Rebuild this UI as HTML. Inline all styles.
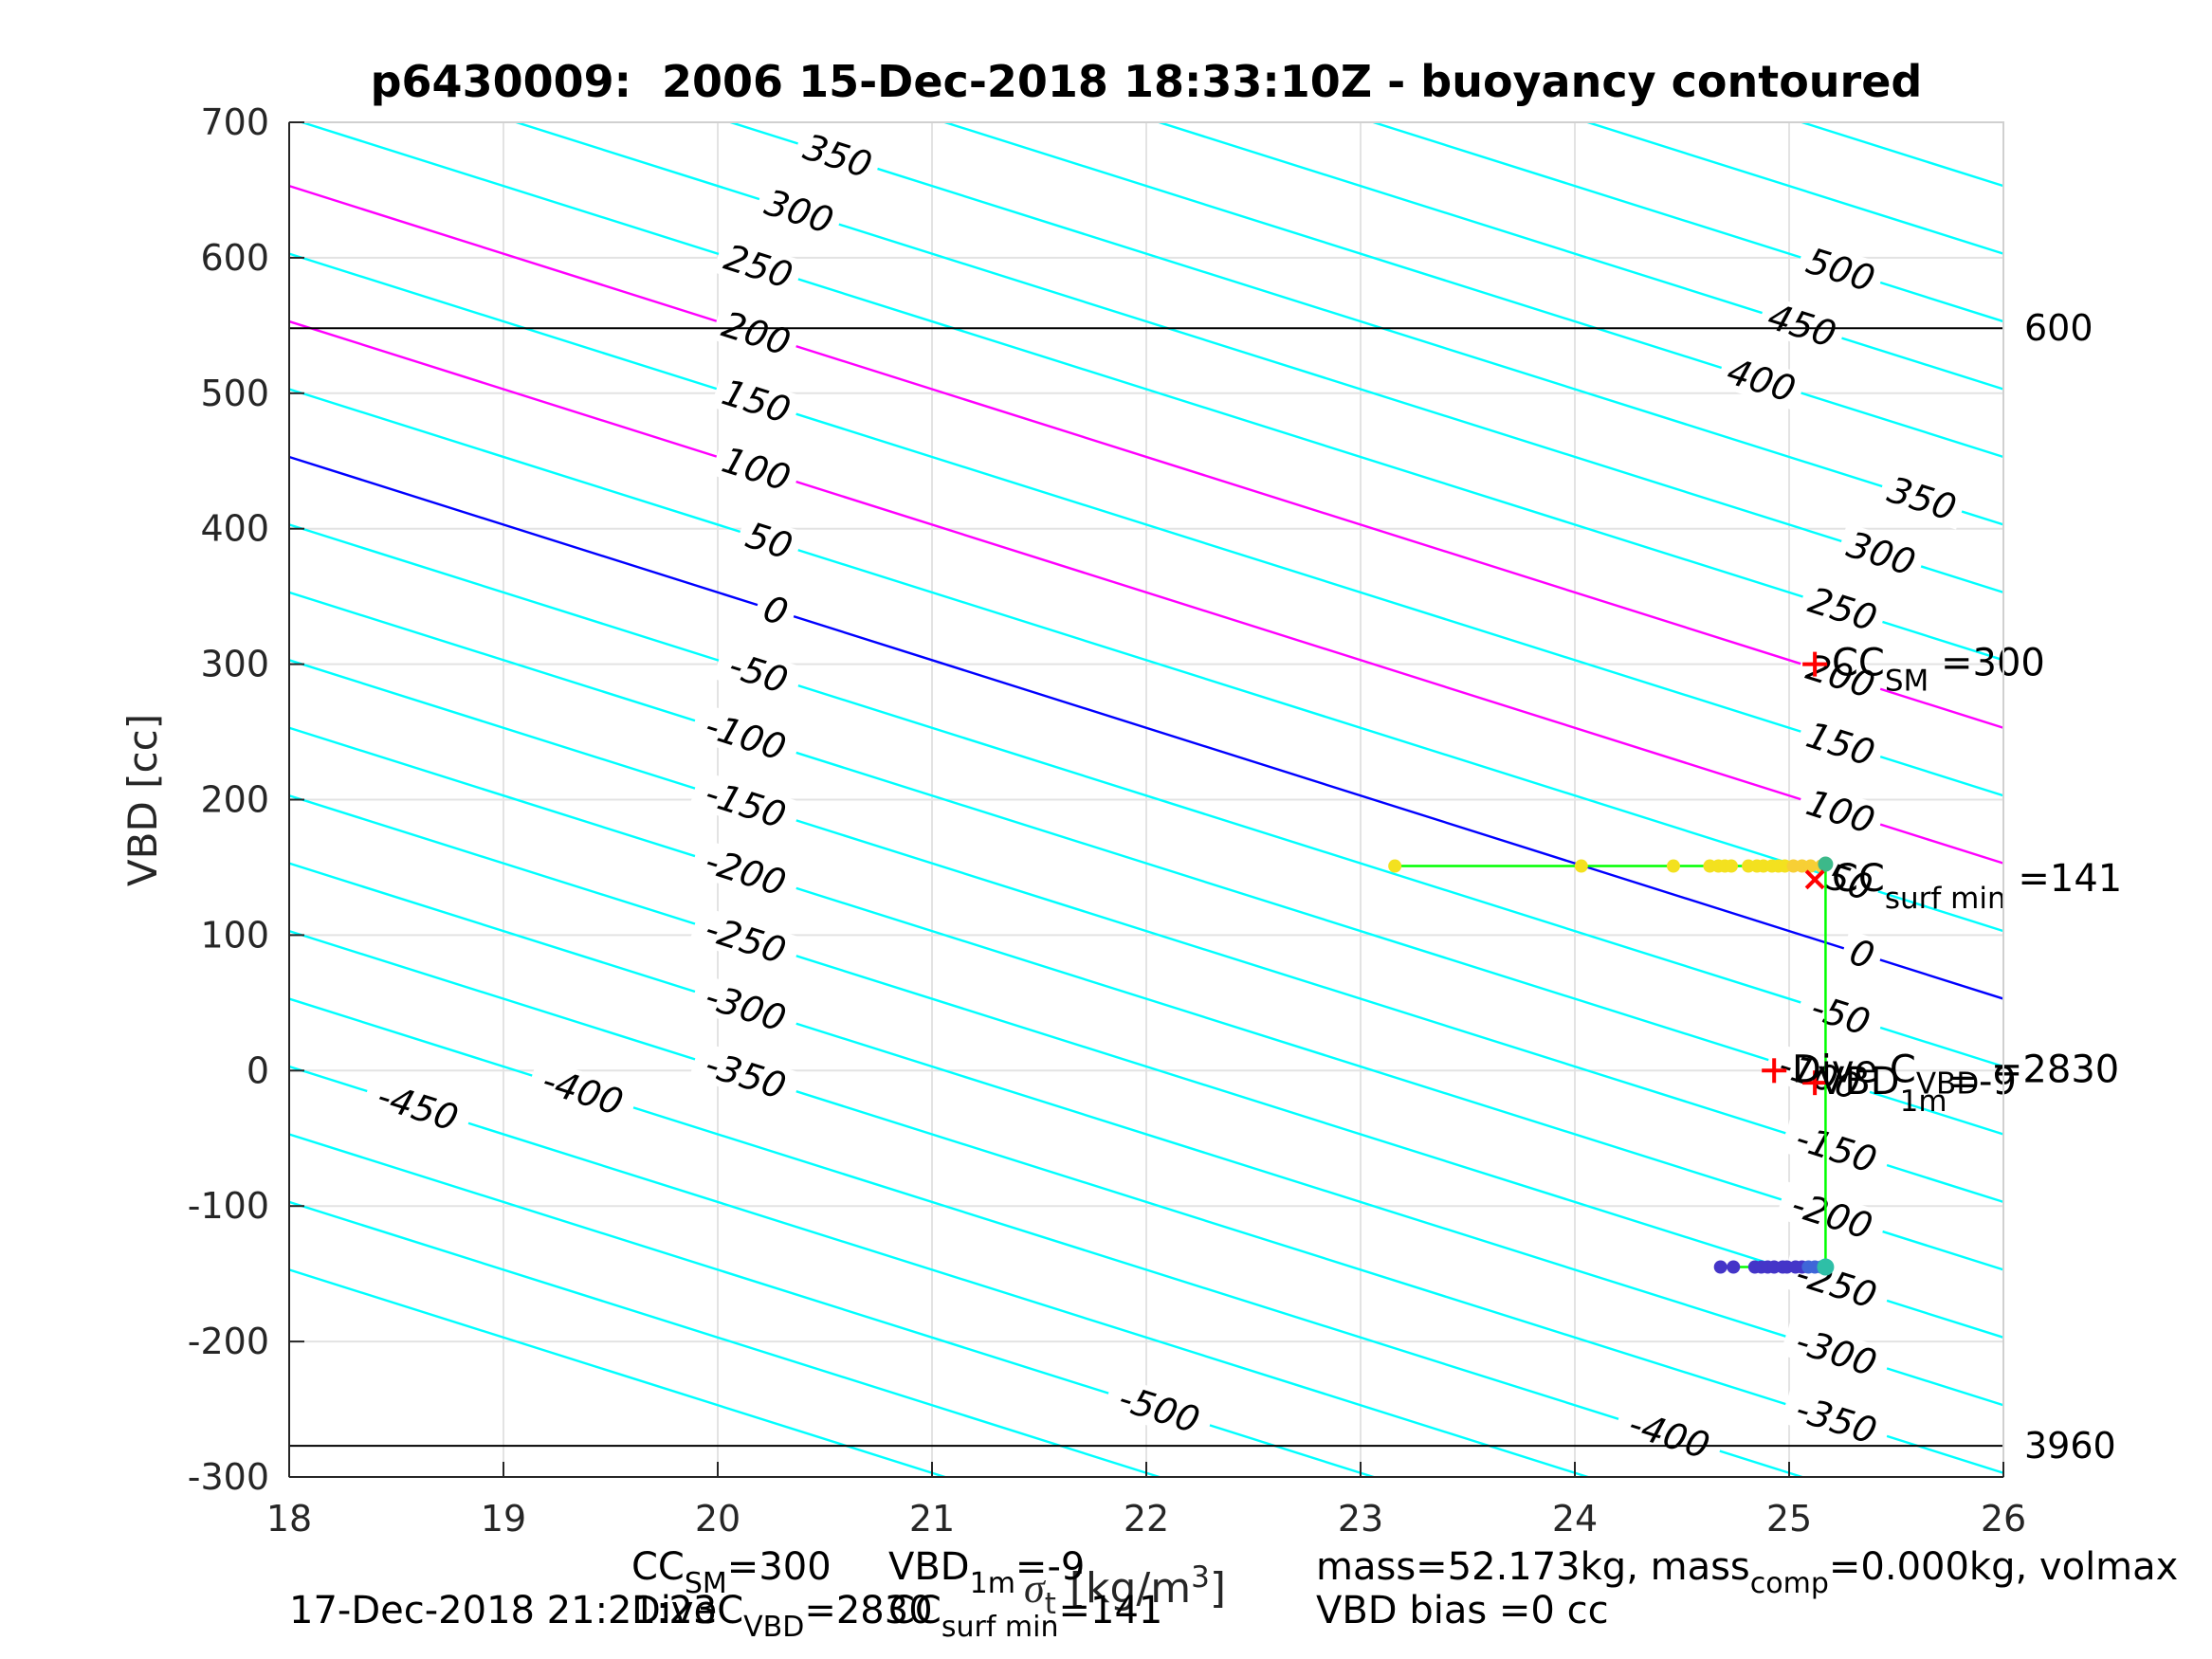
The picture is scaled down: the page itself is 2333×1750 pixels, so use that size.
<!DOCTYPE html>
<html><head><meta charset="utf-8"><style>
html,body{margin:0;background:#fff;overflow:hidden;width:2333px;height:1750px}
svg{display:block;font-family:"DejaVu Sans","Liberation Sans",sans-serif}
</style></head><body>
<svg id="chart" width="2333" height="1750" viewBox="0 0 2333 1750" xmlns="http://www.w3.org/2000/svg">
<rect width="2333" height="1750" fill="#fff"/>
<g id="grid"></g>
<g id="contours"></g>
<g id="clabels"></g>
<g id="refs"></g>
<g id="series"></g>
<g id="axes"></g>
<text x="1209" y="102" text-anchor="middle" font-size="46" font-weight="bold" style="white-space:pre">p6430009:  2006 15-Dec-2018 18:33:10Z - buoyancy contoured</text>
<text transform="translate(165,844) rotate(-90)" text-anchor="middle" font-size="42" fill="#262626">VBD [cc]</text>
<text x="1080" y="1690" font-size="44" fill="#262626"><tspan font-style="italic" font-family="Liberation Serif,serif">σ</tspan><tspan font-size="31" dy="12">t</tspan><tspan dy="-12"> [kg/m</tspan><tspan font-size="31" dy="-16">3</tspan><tspan dy="16">]</tspan></text>
<g font-size="40">
<text x="666" y="1666">CC<tspan font-size="30" dy="14">SM</tspan><tspan dy="-14">=300</tspan></text>
<text x="937" y="1666">VBD<tspan font-size="30" dy="14">1m</tspan><tspan dy="-14">=-9</tspan></text>
<text x="1388" y="1666">mass=52.173kg, mass<tspan font-size="30" dy="14">comp</tspan><tspan dy="-14">=0.000kg, volmax</tspan></text>
<text x="305" y="1712">17-Dec-2018 21:21:23</text>
<text x="666" y="1712">DiveC<tspan font-size="30" dy="14">VBD</tspan><tspan dy="-14">=2830</tspan></text>
<text x="937" y="1712">CC<tspan font-size="30" dy="14">surf min</tspan><tspan dy="-14">=141</tspan></text>
<text x="1388" y="1712">VBD bias =0 cc</text>
</g>
<script>
const X0=305,X1=2113,Y0=129,Y1=1558;
const xMin=18,xMax=26,yMin=-300,yMax=700;
const xTicks=[18,19,20,21,22,23,24,25,26];
const yTicks=[-300,-200,-100,0,100,200,300,400,500,600,700];
const levels=[-600,-550,-500,-450,-400,-350,-300,-250,-200,-150,-100,-50,0,50,100,150,200,250,300,350,400,450,500,550,600,650];
const zeroVBD=453;
const slope=50;
const labelLevelsL=[350,300,250,200,150,100,50,0,-50,-100,-150,-200,-250,-300,-350,-400,-450,-500];
const labelSigmaL=[20.56,20.38,20.19,20.18,20.18,20.18,20.24,20.27,20.19,20.13,20.13,20.13,20.13,20.13,20.13,19.37,18.6,22.06];
const labelLevelsR=[500,450,400,350,300,250,200,150,100,50,0,-50,-100,-150,-200,-250,-300,-350,-400];
const labelSigmaR=[25.24,25.06,24.87,25.62,25.43,25.25,25.24,25.24,25.24,25.28,25.34,25.24,25.14,25.22,25.2,25.22,25.22,25.22,24.44];
const surfSigma=[23.16,24.03,24.46,24.63,24.67,24.70,24.73,24.81,24.85,24.88,24.92,24.95,24.98,25.02,25.06,25.10,25.15];
const surfVBD=151;
const deepSigma=[24.68,24.74,24.84,24.87,24.9,24.93,24.97,24.99,25.03,25.06,25.09,25.12,25.15];
const deepVBD=-145;
const pathSigma=[23.16,25.17,25.17,24.68];
const pathVBD=[151,151,-145,-145];
const refVBD=[548,-277];
const refLabels=["600","3960"];
const ccSM=300, ccSurfMin=141, diveC=0, vbd1m=-9;
const markSigma=25.12, diveCSigma=24.93;

const sx=v=>X0+(v-xMin)/(xMax-xMin)*(X1-X0);
const sy=v=>Y1-(v-yMin)/(yMax-yMin)*(Y1-Y0);
const NS="http://www.w3.org/2000/svg";
function mk(tag,attrs,parent,txt){const e=document.createElementNS(NS,tag);for(const k in attrs)e.setAttribute(k,attrs[k]);if(txt!==undefined)e.textContent=txt;parent.appendChild(e);return e;}
const vbdAt=(lev,s)=>zeroVBD+lev-slope*(s-18);

const grid=document.getElementById('grid');
xTicks.forEach(t=>{const l=mk('line',{x1:sx(t),x2:sx(t),y1:Y0,y2:Y1,stroke:'#e3e3e3','stroke-width':2},grid);

});
yTicks.forEach(t=>{const l=mk('line',{x1:X0,x2:X1,y1:sy(t),y2:sy(t),stroke:'#e3e3e3','stroke-width':2},grid);

});

const cg=document.getElementById('contours');
const clip=mk('clipPath',{id:'pc'},cg);mk('rect',{x:X0,y:Y0,width:X1-X0,height:Y1-Y0},clip);
levels.forEach(lev=>{
 const col=lev===0?'#0000ff':(lev===100||lev===200)?'#ff00ff':'#00ffff';
 const l=mk('line',{x1:sx(xMin),y1:sy(vbdAt(lev,xMin)),x2:sx(xMax),y2:sy(vbdAt(lev,xMax)),stroke:col,'stroke-width':2.4,'clip-path':'url(#pc)'},cg);
 
 
});
const ang=Math.atan((sy(0)-sy(slope))/(sx(19)-sx(18)))*180/Math.PI;
const lg=document.getElementById('clabels');
function addLabels(levs,sig){levs.forEach((lev,i)=>{
 const x=sx(sig[i]),y=sy(vbdAt(lev,sig[i]));
 const g=mk('g',{transform:`translate(${x},${y}) rotate(${ang})`},lg);
 
 
 const w=String(lev).length*24+16;
 mk('rect',{x:-w/2,y:-20,width:w,height:40,fill:'#fff'},g);
 mk('text',{x:0,y:13,'text-anchor':'middle','font-size':38,'font-style':'italic'},g,String(lev));
});}
addLabels(labelLevelsL,labelSigmaL);addLabels(labelLevelsR,labelSigmaR);

const rg=document.getElementById('refs');
refVBD.forEach((v,i)=>{
 const l=mk('line',{x1:X0,x2:X1,y1:sy(v),y2:sy(v),stroke:'#000','stroke-width':2},rg);
 
 
 const t=mk('text',{x:2135,y:sy(v)+13,'font-size':38},rg,refLabels[i]);
 
 
});

const sg=document.getElementById('series');
const p=mk('polyline',{points:pathSigma.map((s,i)=>sx(s)+','+sy(pathVBD[i])).join(' '),fill:'none',stroke:'#00ff00','stroke-width':2.5},sg);


surfSigma.forEach((s,i)=>{const c=mk('circle',{cx:sx(s),cy:sy(surfVBD),r:7,fill:i>=13?'#f7cf35':'#f3e11f'},sg);
 
 });
const t1=mk('circle',{cx:sx(25.17),cy:sy(surfVBD)-2,r:8,fill:'#3cb98a'},sg);


deepSigma.forEach((s,i)=>{const f=i/(deepSigma.length-1);const c=mk('circle',{cx:sx(s),cy:sy(deepVBD),r:7,fill:f>0.8?'#3f66d8':'#4435c8'},sg);
 
 });
const t2=mk('circle',{cx:sx(25.17),cy:sy(deepVBD),r:9,fill:'#2ebfa7'},sg);



function plus(x,y,name){const g=mk('g',{stroke:'#ff0000','stroke-width':4},sg);
 
 
 mk('line',{x1:x-13,x2:x+13,y1:y,y2:y},g);mk('line',{x1:x,x2:x,y1:y-13,y2:y+13},g);}
function cross(x,y,name){const g=mk('g',{stroke:'#ff0000','stroke-width':4},sg);
 
 
 mk('line',{x1:x-9,x2:x+9,y1:y-9,y2:y+9},g);mk('line',{x1:x-9,x2:x+9,y1:y+9,y2:y-9},g);}
plus(sx(markSigma),sy(ccSM),'cc-sm-marker');
cross(sx(markSigma),sy(ccSurfMin),'cc-surf-min-marker');
plus(sx(diveCSigma),sy(diveC),'dive-c-marker');
plus(sx(markSigma),sy(vbd1m),'vbd-1m-marker');
function ann(x,y,main,sub,val,name,dy){const t=mk('text',{x:x,y:y,'font-size':40,style:'white-space:pre'},sg);
 
 
 t.appendChild(document.createTextNode(main));
 mk('tspan',{'font-size':31,dy:dy},t,sub);
 mk('tspan',{dy:-dy},t,val);}
ann(1932,sy(ccSM)+12,'CC','SM',' =300','cc-sm-annotation',16);
ann(1932,sy(ccSurfMin)+12,'CC','surf min',' =141','cc-surf-min-annotation',18);
ann(1890,sy(diveC)+12,'Dive C','VBD',' =2830','dive-c-annotation',12);
ann(1918,sy(vbd1m)+12,'VBD','1m','=-9','vbd-1m-annotation',18);

const ax=document.getElementById('axes');
mk('rect',{x:X0,y:Y0,width:X1-X0,height:Y1-Y0,fill:'none',stroke:'#d0d0d0','stroke-width':2},ax);
mk('line',{x1:X0,x2:X0,y1:Y0,y2:Y1,stroke:'#262626','stroke-width':2},ax);
mk('line',{x1:X0,x2:X1,y1:Y1,y2:Y1,stroke:'#262626','stroke-width':2},ax);
xTicks.forEach(t=>{mk('line',{x1:sx(t),x2:sx(t),y1:Y1,y2:Y1-16,stroke:'#262626','stroke-width':2},ax);
 const l=mk('text',{x:sx(t),y:1615,'text-anchor':'middle','font-size':38,fill:'#262626'},ax,String(t));
 
 });
yTicks.forEach(t=>{mk('line',{x1:X0,x2:X0+16,y1:sy(t),y2:sy(t),stroke:'#262626','stroke-width':2},ax);
 const l=mk('text',{x:284,y:sy(t)+13,'text-anchor':'end','font-size':38,fill:'#262626'},ax,String(t));
 
 });
</script>
</svg>
</body></html>
